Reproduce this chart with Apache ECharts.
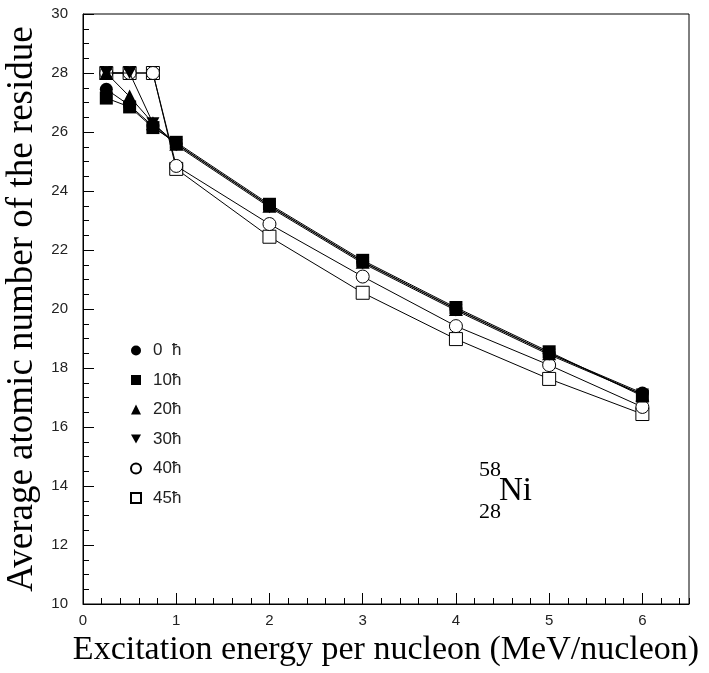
<!DOCTYPE html>
<html>
<head>
<meta charset="utf-8">
<script src="https://cdn.jsdelivr.net/npm/echarts@6/dist/echarts.min.js"></script>
<style>html,body{margin:0;padding:0;background:#fff;}#c{width:709px;height:673px;}</style>
</head>
<body>
<div id="c"></div>
<script>
// ---- data ----
const xValues = [0.25, 0.5, 0.75, 1, 2, 3, 4, 5, 6];
const s0  = [27.45, 26.9, 26.2, 25.6, 23.5, 21.6, 20.0, 18.5, 17.15];
const s10 = [27.15, 26.85, 26.15, 25.65, 23.55, 21.65, 20.05, 18.55, 17.05];
const s20 = [28.0, 27.2, 26.3, 25.6, 23.5, 21.6, 20.0, 18.5, 17.1];
const s30 = [28.0, 28.0, 26.3, 25.55, 23.45, 21.55, 19.95, 18.45, 17.1];
const s40 = [28.0, 28.0, 28.0, 24.85, 22.88, 21.1, 19.42, 18.1, 16.68];
const s45 = [28.0, 28.0, 28.0, 24.75, 22.45, 20.55, 18.98, 17.63, 16.44];
const seriesNames = ['0\u2007ħ', '10ħ', '20ħ', '30ħ', '40ħ', '45ħ'];
const yTickLabels = [10, 12, 14, 16, 18, 20, 22, 24, 26, 28, 30];
const xTickLabels = [0, 1, 2, 3, 4, 5, 6];
const xTitle = 'Excitation energy per nucleon (MeV/nucleon)';
const yTitle = 'Average atomic number of the residue';

const downTri = 'path://M0,0 L10,0 L5,9 Z';
const symbols = ['circle', 'rect', 'triangle', downTri, 'circle', 'rect'];
const filled = [true, true, true, true, false, false];
const zOrder = [4, 4, 4, 4, 3, 2];
const allData = [s0, s10, s20, s30, s40, s45];

const chart = echarts.init(document.getElementById('c'));
const series = allData.map((arr, k) => ({
  name: seriesNames[k],
  type: 'line',
  xAxisIndex: 0,
  yAxisIndex: 0,
  data: xValues.map((x, i) => [x, arr[i]]),
  symbol: symbols[k],
  symbolSize: k === 2 ? 14 : (k === 3 ? [13, 12] : 13),
  showSymbol: true,
  lineStyle: { color: '#000', width: 1 },
  itemStyle: {
    color: filled[k] ? '#000' : '#fff',
    borderColor: '#000',
    borderWidth: filled[k] ? 0 : 1
  },
  z: zOrder[k],
  animation: false
}));

const option = {
  animation: false,
  backgroundColor: '#fff',
  grid: { left: 83, right: 20, top: 14, bottom: 69, show: true, borderColor: '#000', borderWidth: 1,
          containLabel: false, outerBoundsMode: 'none' },
  xAxis: [{
    type: 'value', min: 0, max: 6.5, interval: 1,
    axisLine: { lineStyle: { color: '#000', width: 1 } },
    axisTick: { inside: true, length: 11, lineStyle: { color: '#000' } },
    axisLabel: {
      color: '#222', fontFamily: 'Liberation Sans', fontSize: 15, margin: 9,
      showMaxLabel: false,
      formatter: v => (xTickLabels.indexOf(v) >= 0 ? String(v) : '')
    },
    splitLine: { show: false },
    name: xTitle, nameLocation: 'middle', nameGap: 29,
    nameTextStyle: { fontFamily: 'Liberation Serif', fontSize: 34, color: '#000' }
  }, {
    type: 'value', min: 0, max: 6.5, interval: 0.2, position: 'bottom',
    axisLine: { show: false },
    axisTick: { inside: true, length: 6, lineStyle: { color: '#000' } },
    axisLabel: { show: false },
    splitLine: { show: false }
  }],
  yAxis: [{
    type: 'value', min: 10, max: 30, interval: 2,
    axisLine: { lineStyle: { color: '#000', width: 1 } },
    axisTick: { inside: true, length: 11, lineStyle: { color: '#000' } },
    minorTick: { show: true, splitNumber: 4, length: 6, lineStyle: { color: '#000' } },
    axisLabel: {
      color: '#222', fontFamily: 'Liberation Sans', fontSize: 15, margin: 15,
      formatter: v => (yTickLabels.indexOf(v) >= 0 ? String(v) : '')
    },
    splitLine: { show: false },
    name: yTitle, nameLocation: 'middle', nameGap: 32, nameRotate: 90,
    nameTextStyle: { fontFamily: 'Liberation Serif', fontSize: 37, color: '#000' }
  }],
  legend: {
    orient: 'vertical', left: 125, top: 337,
    itemWidth: 10, itemHeight: 10, itemGap: 12.5,
    data: seriesNames.map((n, k) => ({ name: n, icon: symbols[k] })),
    textStyle: { fontFamily: 'Liberation Sans', fontSize: 17, color: '#222', padding: [0, 0, 0, 7] },
    selectedMode: false
  },
  graphic: [
    { type: 'text', style: { x: 479, y: 470, text: '58', font: '22px "Liberation Serif"', fill: '#000', textVerticalAlign: 'middle' } },
    { type: 'text', style: { x: 499, y: 491, text: 'Ni', font: '33px "Liberation Serif"', fill: '#000', textVerticalAlign: 'middle' } },
    { type: 'text', style: { x: 479, y: 512, text: '28', font: '22px "Liberation Serif"', fill: '#000', textVerticalAlign: 'middle' } }
  ],
  series: series
};
chart.setOption(option);
</script>
</body>
</html>
